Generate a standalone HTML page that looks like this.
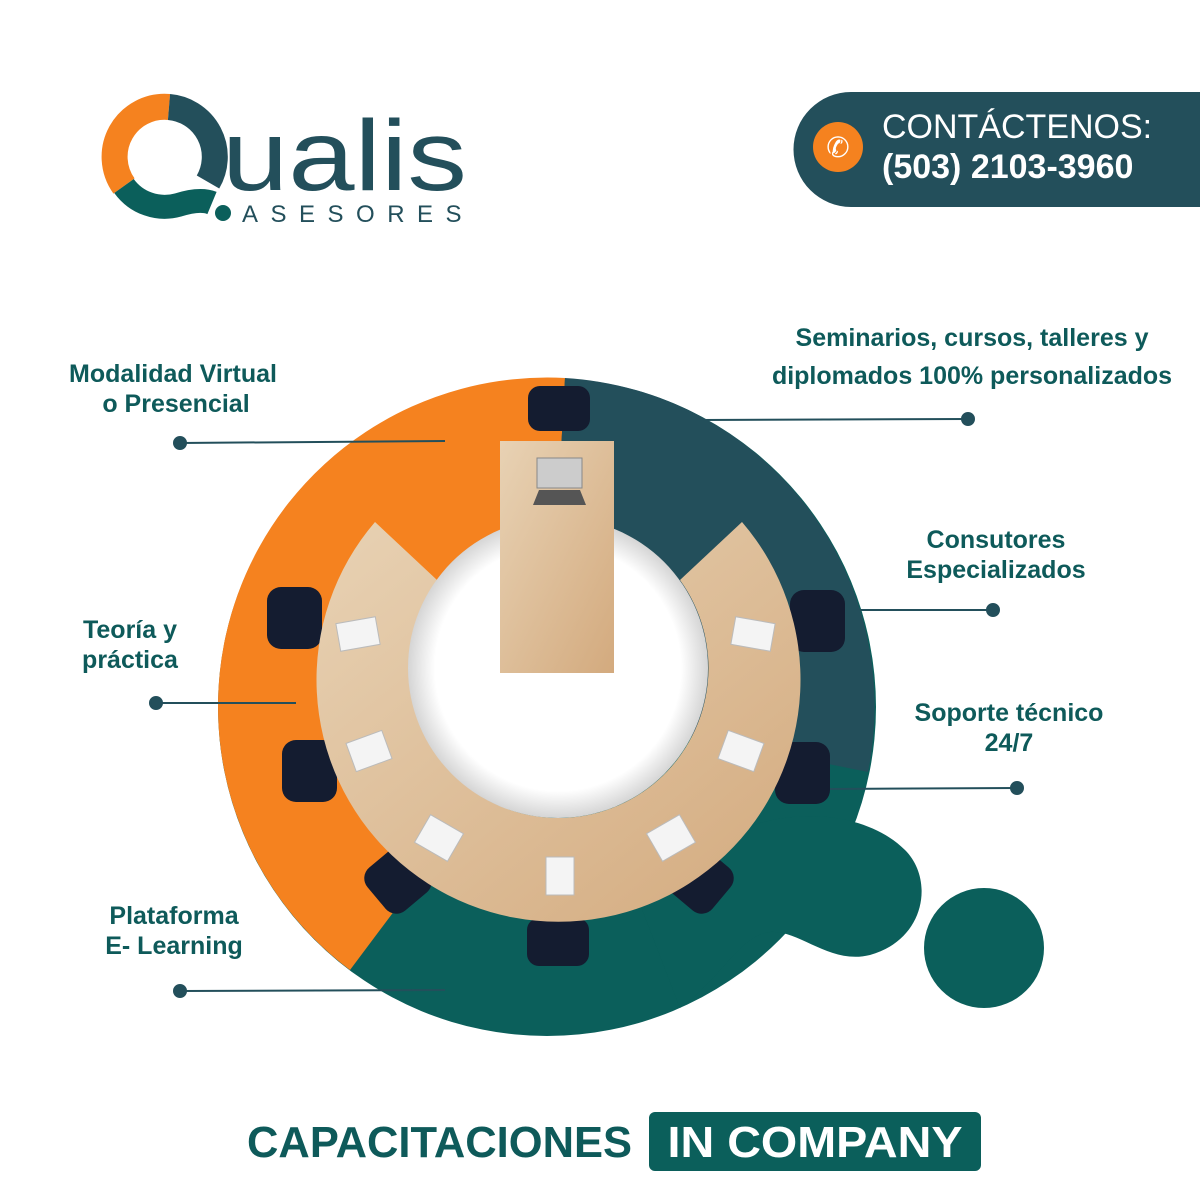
<!DOCTYPE html>
<html><head><meta charset="utf-8"><style>
body{margin:0;width:1200px;height:1200px;background:#fff;overflow:hidden;font-family:"Liberation Sans",sans-serif}
svg{position:absolute;left:0;top:0}
</style></head><body>
<svg width="1200" height="1200" viewBox="0 0 1200 1200">
<defs>
<linearGradient id="wood" x1="0" y1="0" x2="1" y2="1"><stop offset="0" stop-color="#e8d2b4"/><stop offset="1" stop-color="#d3aa7e"/></linearGradient>
<radialGradient id="hole" cx="0.5" cy="0.5" r="0.5"><stop offset="0.82" stop-color="#fff"/><stop offset="1" stop-color="#d5d5d5"/></radialGradient>
</defs>
<!-- logo -->
<path d="M169 107 A50 50 0 0 0 124 186" fill="none" stroke="#f5821f" stroke-width="26"/>
<path d="M169 107 A50 50 0 0 1 208 182" fill="none" stroke="#234f5b" stroke-width="26"/>
<path d="M124 186 A50 50 0 0 0 178 205 Q200 198 212 203" fill="none" stroke="#0b5f5b" stroke-width="24"/>
<circle cx="223" cy="213" r="8" fill="#0b5f5b"/>
<text x="222" y="190" font-size="100" fill="#234f5b" textLength="245" lengthAdjust="spacingAndGlyphs">ualis</text>
<text x="242" y="222" font-size="24" fill="#234f5b" letter-spacing="12.5">ASESORES</text>
<!-- contact -->
<path d="M851 92 H1200 V207 H851 A57.5 57.5 0 0 1 851 92Z" fill="#234f5b"/>
<circle cx="838" cy="147" r="25" fill="#f5821f"/>
<text x="838" y="157" font-size="28" fill="#fff" text-anchor="middle">✆</text>
<text x="882" y="138" font-size="34" fill="#fff">CONTÁCTENOS:</text>
<text x="882" y="178" font-size="34" font-weight="bold" fill="#fff">(503) 2103-3960</text>
<!-- big circle -->
<circle cx="547" cy="707" r="329" fill="#0b5f5b"/>
<path d="M547 707 L565 378 A329 329 0 0 0 350 970Z" fill="#f5821f"/>
<path d="M547 707 L565 378 A329 329 0 0 1 868 772Z" fill="#234f5b"/>
<path d="M740 830 C800 805 870 815 905 850 C935 880 925 940 870 955 C830 965 800 930 770 932 C740 935 720 980 680 1008 L600 800Z" fill="#0b5f5b"/>
<circle cx="984" cy="948" r="60" fill="#0b5f5b"/>
<!-- chairs -->
<g fill="#141c30">
<rect x="528" y="386" width="62" height="45" rx="12"/>
<rect x="267" y="587" width="55" height="62" rx="14"/>
<rect x="282" y="740" width="55" height="62" rx="14"/>
<rect x="370" y="852" width="56" height="56" rx="14" transform="rotate(-40 398 880)"/>
<rect x="527" y="918" width="62" height="48" rx="12"/>
<rect x="672" y="852" width="56" height="56" rx="14" transform="rotate(40 700 880)"/>
<rect x="790" y="590" width="55" height="62" rx="14"/>
<rect x="775" y="742" width="55" height="62" rx="14"/>
</g>
<!-- ring table -->
<path d="M375 522 A242 242 0 1 0 742 522 L680 580 A150 150 0 1 1 437 580Z" fill="url(#wood)"/>
<circle cx="558" cy="668" r="150" fill="url(#hole)"/>
<!-- rect table -->
<rect x="500" y="441" width="114" height="232" fill="url(#wood)"/>
<rect x="537" y="458" width="45" height="30" fill="#ccc" stroke="#888"/>
<path d="M533 505 L586 505 L580 490 L539 490Z" fill="#555"/>
<!-- papers -->
<g fill="#f4f4f4" stroke="#bbb">
<rect x="338" y="620" width="40" height="28" transform="rotate(-10 358 634)"/>
<rect x="350" y="736" width="38" height="30" transform="rotate(-20 369 751)"/>
<rect x="420" y="822" width="38" height="32" transform="rotate(30 439 838)"/>
<rect x="546" y="857" width="28" height="38"/>
<rect x="652" y="822" width="38" height="32" transform="rotate(-30 671 838)"/>
<rect x="722" y="736" width="38" height="30" transform="rotate(20 741 751)"/>
<rect x="733" y="620" width="40" height="28" transform="rotate(10 753 634)"/>
</g>
<!-- lines -->
<g stroke="#234f5b" stroke-width="2" fill="#234f5b">
<line x1="180" y1="443" x2="445" y2="441"/><circle cx="180" cy="443" r="6"/>
<line x1="700" y1="420" x2="968" y2="419"/><circle cx="968" cy="419" r="6"/>
<line x1="856" y1="610" x2="993" y2="610"/><circle cx="993" cy="610" r="6"/>
<line x1="156" y1="703" x2="296" y2="703"/><circle cx="156" cy="703" r="6"/>
<line x1="830" y1="789" x2="1017" y2="788"/><circle cx="1017" cy="788" r="6"/>
<line x1="180" y1="991" x2="445" y2="990"/><circle cx="180" cy="991" r="6"/>
</g>
<g fill="#0e5a5a" font-weight="bold" font-size="25" text-anchor="middle" font-family="Liberation Sans,sans-serif">
<text x="173" y="382">Modalidad Virtual</text><text x="176" y="412">o Presencial</text>
<text x="972" y="346">Seminarios, cursos, talleres y</text><text x="972" y="384">diplomados 100% personalizados</text>
<text x="996" y="548">Consutores</text><text x="996" y="578">Especializados</text>
<text x="130" y="638">Teoría y</text><text x="130" y="668">práctica</text>
<text x="1009" y="721">Soporte técnico</text><text x="1009" y="751">24/7</text>
<text x="174" y="924">Plataforma</text><text x="174" y="954">E- Learning</text>
</g>
<text x="247" y="1157" font-size="44" font-weight="bold" fill="#0e5a5a" textLength="385" lengthAdjust="spacingAndGlyphs">CAPACITACIONES</text>
<rect x="649" y="1112" width="332" height="59" rx="6" fill="#0b5f5b"/>
<text x="815" y="1157" font-size="44" font-weight="bold" fill="#fff" text-anchor="middle" textLength="295" lengthAdjust="spacingAndGlyphs">IN COMPANY</text>
</svg>
</body></html>
